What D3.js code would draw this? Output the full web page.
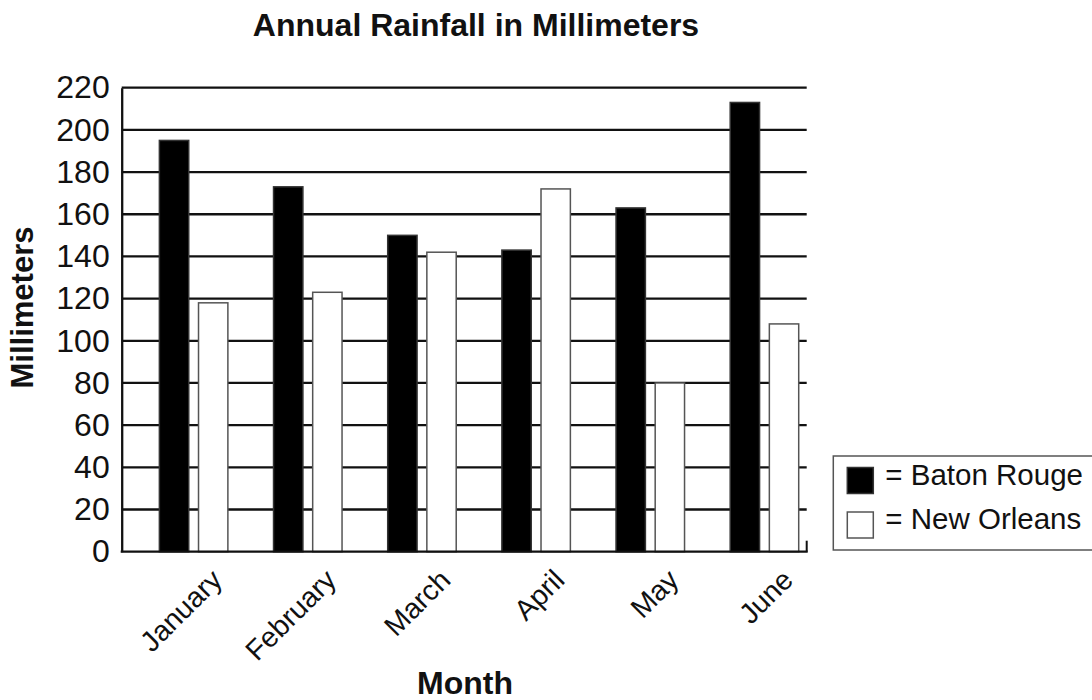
<!DOCTYPE html>
<html>
<head>
<meta charset="utf-8">
<script src="https://cdn.jsdelivr.net/npm/d3@7"></script>
<style>
  html, body { margin: 0; padding: 0; background: #ffffff; }
  svg { display: block; font-family: "Liberation Sans", Arial, sans-serif; }
</style>
</head>
<body>
<svg id="chart" width="1092" height="700"></svg>
<script>
// Monthly rainfall (mm) for two cities
const months = ["January", "February", "March", "April", "May", "June"];
const seriesNames = ["Baton Rouge", "New Orleans"];
const batonRouge = [195, 173, 150, 143, 163, 213];
const newOrleans = [118, 123, 142, 172, 80, 108];
const yTicks = [0, 20, 40, 60, 80, 100, 120, 140, 160, 180, 200, 220];

const seriesFill = { "Baton Rouge": "#000000", "New Orleans": "#ffffff" };
const seriesStroke = { "Baton Rouge": "#333333", "New Orleans": "#555555" };

const rows = months.map((m, i) => ({
  month: m,
  values: [
    { key: "Baton Rouge", value: batonRouge[i] },
    { key: "New Orleans", value: newOrleans[i] }
  ]
}));

const svg = d3.select("#chart");
const plot = { left: 121.7, right: 806.7, top: 87.7, bottom: 551.7 };

const x0 = d3.scaleBand().domain(months).range([plot.left, plot.right]).padding(0);
const bw = x0.bandwidth();
const x1 = d3.scaleBand().domain(seriesNames)
  .range([bw * 0.33, bw * 0.93]).paddingInner(0.25).paddingOuter(0);
const y = d3.scaleLinear().domain([0, 220]).range([plot.bottom, plot.top]);

// Horizontal gridlines
svg.append("g")
  .selectAll("line")
  .data(yTicks.filter(t => t > 0))
  .join("line")
  .attr("x1", plot.left).attr("x2", plot.right)
  .attr("y1", d => y(d)).attr("y2", d => y(d))
  .attr("stroke", "#111").attr("stroke-width", 2.3);

// Bars
svg.append("g")
  .selectAll("g")
  .data(rows)
  .join("g")
  .attr("transform", d => `translate(${x0(d.month)},0)`)
  .selectAll("rect")
  .data(d => d.values)
  .join("rect")
  .attr("x", d => x1(d.key))
  .attr("width", x1.bandwidth())
  .attr("y", d => y(d.value))
  .attr("height", d => y(0) - y(d.value))
  .attr("fill", d => seriesFill[d.key])
  .attr("stroke", d => seriesStroke[d.key])
  .attr("stroke-width", 1.5);

// Y axis
const yAxis = d3.axisLeft(y).tickValues(yTicks).tickSize(0).tickPadding(12);
const yg = svg.append("g").attr("transform", `translate(${plot.left},0)`).call(yAxis);
yg.select(".domain").attr("stroke", "#111").attr("stroke-width", 2.3);
yg.selectAll("text")
  .attr("font-size", 32).attr("fill", "#111")
  .attr("font-family", "'Liberation Sans', Arial, sans-serif");

// X axis baseline with small end tick on the right
svg.append("line")
  .attr("x1", plot.left - 1).attr("x2", plot.right + 1)
  .attr("y1", plot.bottom).attr("y2", plot.bottom)
  .attr("stroke", "#111").attr("stroke-width", 2.3);
svg.append("line")
  .attr("x1", plot.right).attr("x2", plot.right)
  .attr("y1", plot.bottom - 11).attr("y2", plot.bottom)
  .attr("stroke", "#111").attr("stroke-width", 2);

// Month labels, rotated
const xg = svg.append("g").attr("transform", `translate(0,${plot.bottom})`)
  .call(d3.axisBottom(x0).tickSize(0).tickPadding(0));
xg.select(".domain").remove();
xg.selectAll(".tick text")
  .attr("font-size", 28.5).attr("fill", "#111")
  .attr("font-family", "'Liberation Sans', Arial, sans-serif")
  .attr("text-anchor", "end")
  .attr("dy", 0).attr("y", 0)
  .attr("transform", "translate(45,30) rotate(-45)");

// Title
svg.append("text")
  .attr("x", 476).attr("y", 36)
  .attr("text-anchor", "middle")
  .attr("font-size", 32).attr("font-weight", "bold").attr("fill", "#111")
  .text("Annual Rainfall in Millimeters");

// Axis titles
svg.append("text")
  .attr("transform", "translate(33,307.5) rotate(-90)")
  .attr("text-anchor", "middle")
  .attr("font-size", 31).attr("font-weight", "bold").attr("fill", "#111")
  .text("Millimeters");

svg.append("text")
  .attr("x", 465).attr("y", 694)
  .attr("text-anchor", "middle")
  .attr("font-size", 32).attr("font-weight", "bold").attr("fill", "#111")
  .text("Month");

// Legend
const legend = svg.append("g").attr("transform", "translate(833.3,456)");
legend.append("rect")
  .attr("x", 0).attr("y", 0).attr("width", 270).attr("height", 94)
  .attr("fill", "#fff").attr("stroke", "#555").attr("stroke-width", 1.5);
const li = legend.selectAll("g.item")
  .data(seriesNames)
  .join("g")
  .attr("class", "item")
  .attr("transform", (d, i) => `translate(14,${11.5 + i * 44.5})`);
li.append("rect")
  .attr("width", 26).attr("height", 26)
  .attr("fill", d => seriesFill[d])
  .attr("stroke", d => seriesStroke[d]).attr("stroke-width", 1.5);
li.append("text")
  .attr("x", 38).attr("y", 17)
  .attr("font-size", 29.5).attr("fill", "#111")
  .text(d => "= " + d);
</script>
</body>
</html>
